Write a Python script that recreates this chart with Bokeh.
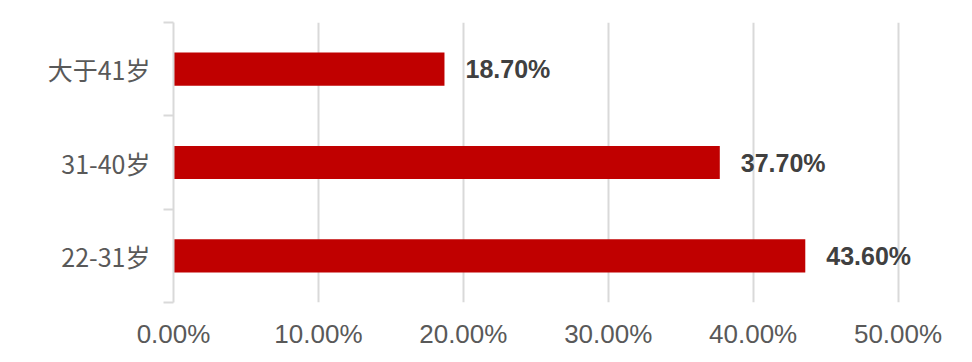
from bokeh.plotting import figure
from bokeh.models import ColumnDataSource, Range1d, FixedTicker, PrintfTickFormatter
from bokeh.core.properties import value
from bokeh.embed import file_html
from bokeh.resources import INLINE

# Data (bottom to top)
categories = ["22-31岁", "31-40岁", "大于41岁"]
shares = [43.6, 37.7, 18.7]
x_ticks = [0, 10, 20, 30, 40, 50]

ypos = [i + 0.5 for i in range(len(categories))]
labels = [f"{v:.2f}%" for v in shares]
src = ColumnDataSource(dict(y=ypos, v=shares, label=labels))

p = figure(width=972, height=362, output_backend="svg", toolbar_location=None,
           x_range=Range1d(0, 53), y_range=Range1d(0, len(categories)),
           min_border_left=173, min_border_right=31, min_border_top=22, min_border_bottom=60)
p.outline_line_color = None
p.background_fill_color = "white"
p.border_fill_color = "white"

p.hbar(y="y", right="v", left=0, height=0.355, source=src,
       fill_color="#C00000", line_color=None)
p.text(x="v", y="y", text="label", source=src, x_offset=21,
       text_baseline="middle", text_align="left",
       text_font=value("Liberation Sans"), text_font_style="bold",
       text_font_size="25px", text_color="#404040")

# x axis
p.xaxis.ticker = FixedTicker(ticks=x_ticks)
p.xaxis.formatter = PrintfTickFormatter(format="%.2f%%")
p.xaxis.axis_line_color = None
p.xaxis.major_tick_line_color = None
p.xaxis.minor_tick_line_color = None
p.xaxis.major_tick_in = 0
p.xaxis.major_tick_out = 0
p.xaxis.major_label_standoff = 16
p.xaxis.major_label_text_font = "Liberation Sans"
p.xaxis.major_label_text_font_size = "26px"
p.xaxis.major_label_text_color = "#595959"

p.xgrid.ticker = FixedTicker(ticks=x_ticks)
p.xgrid.grid_line_color = "#d9d9d9"
p.xgrid.grid_line_width = 2
p.ygrid.grid_line_color = None

# y axis: labels at centers, ticks at category boundaries
p.yaxis.ticker = FixedTicker(ticks=ypos, minor_ticks=[i for i in range(len(categories) + 1)])
p.yaxis.major_label_overrides = {y: c for y, c in zip(ypos, categories)}
p.yaxis.major_tick_line_color = None
p.yaxis.major_tick_in = 0
p.yaxis.major_tick_out = 0
p.yaxis.minor_tick_in = 0
p.yaxis.minor_tick_out = 10
p.yaxis.minor_tick_line_color = "#d9d9d9"
p.yaxis.minor_tick_line_width = 2
p.yaxis.axis_line_color = "#d9d9d9"
p.yaxis.axis_line_width = 2
p.yaxis.major_label_standoff = 13
p.yaxis.major_label_text_font = "Noto Sans CJK SC"
p.yaxis.major_label_text_font_size = "25px"
p.yaxis.major_label_text_color = "#595959"

open("out.html", "w").write(file_html(p, INLINE))
